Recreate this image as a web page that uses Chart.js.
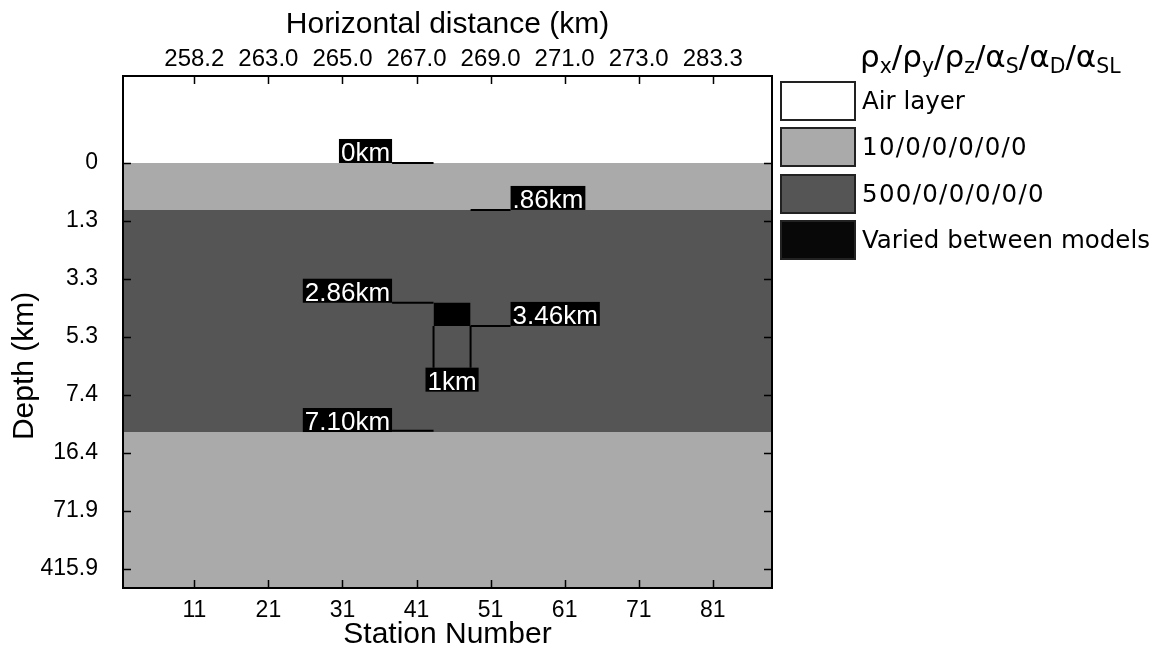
<!DOCTYPE html>
<html>
<head>
<meta charset="utf-8">
<script src="https://cdn.jsdelivr.net/npm/chart.js@4.4.0/dist/chart.umd.min.js"></script>
<style>
  html, body { margin: 0; padding: 0; background: #fff; }
  #wrap { position: relative; width: 1165px; height: 653px; }
  #legend { position: absolute; left: 780px; top: 0; font-family: 'DejaVu Sans', sans-serif; color: #000; }
  #legend .title { position: absolute; left: 80px; top: 38px; font-size: 31px; white-space: nowrap; }
  #legend .title sub { font-size: 0.66em; vertical-align: -0.3em; line-height: 0; }
  #legend .item { position: absolute; left: 0; height: 40px; white-space: nowrap; }
  #legend .box { position: absolute; left: 0; top: 0; width: 72px; height: 36px; border: 2px solid #222; }
  #legend .txt { position: absolute; left: 82px; top: 0; line-height: 40px; font-size: 24.5px; }
</style>
</head>
<body>
<div id="wrap">
  <canvas id="chart" width="1165" height="653"></canvas>
  <div id="legend">
    <div class="title">ρ<sub>x</sub>/ρ<sub>y</sub>/ρ<sub>z</sub>/α<sub>S</sub>/α<sub>D</sub>/α<sub>SL</sub></div>
  </div>
</div>
<script>
// tick labels
const stations = [11, 21, 31, 41, 51, 61, 71, 81];
const distances = ['258.2', '263.0', '265.0', '267.0', '269.0', '271.0', '273.0', '283.3'];
const depths = ['0', '1.3', '3.3', '5.3', '7.4', '16.4', '71.9', '415.9'];

// model extent (x in station numbers, y in mesh rows: row i = depths[i])
const xRange = [1.37, 89];
const yRange = [-1.5, 7.33];

// layers, top and bottom in mesh rows
const layerTop = [-1.5, 0, 0.81, 4.64];
const layerBottom = [0, 0.81, 4.64, 7.33];

// block that changes between models
const blockX = [43.3, 48.3];
const blockY = [2.41, 2.81];

// marker lines [x0, x1, y0, y1]
const markerLines = [
    [37.7, 43.3, 0, 0],
    [48.3, 53.7, 0.81, 0.81],
    [37.7, 43.3, 2.41, 2.41],
    [48.3, 53.7, 2.81, 2.81],
    [43.3, 43.3, 2.81, 3.53],
    [48.3, 48.3, 2.81, 3.53],
    [37.7, 43.3, 4.62, 4.62]
];

// marker labels and the line end they hang on
const markerText = ['0km', '.86km', '2.86km', '3.46km', '1km', '7.10km'];
const markerX = [37.7, 53.7, 37.7, 53.7, 45.8, 37.7];
const markerY = [0, 0.81, 2.41, 2.81, 3.53, 4.64];
const markerSide = ['right', 'left', 'right', 'left', 'below', 'right'];

// legend
const legendLabels = ['Air layer', '10/0/0/0/0/0', '500/0/0/0/0/0', 'Varied between models'];
const legendColors = ['#ffffff', '#aaaaaa', '#555555', '#080808'];
const layerColors = ['#ffffff', '#aaaaaa', '#555555', '#aaaaaa'];

const legend = document.getElementById('legend');
legendLabels.forEach(function (name, i) {
    const item = document.createElement('div');
    item.className = 'item';
    item.style.top = (81 + i * 46.4) + 'px';
    const spacing = name.indexOf('/') >= 0 ? 'letter-spacing:1.3px;' : '';
    item.innerHTML = '<div class="box" style="background:' + legendColors[i] + '"></div>' +
        '<div class="txt" style="' + spacing + '">' + name + '</div>';
    legend.appendChild(item);
});

const datasets = [];
layerTop.forEach(function (top, i) {
    datasets.push({
        data: [{x: xRange[0], y: top}, {x: xRange[1], y: top}],
        fill: {value: layerBottom[i]},
        backgroundColor: layerColors[i],
        borderColor: 'rgba(0,0,0,0)',
        borderWidth: 0,
        order: 3
    });
});
datasets.push({
    data: [{x: blockX[0], y: blockY[0]}, {x: blockX[1], y: blockY[0]}],
    fill: {value: blockY[1]},
    backgroundColor: '#000000',
    borderColor: 'rgba(0,0,0,0)',
    borderWidth: 0,
    order: 2
});
markerLines.forEach(function (m) {
    datasets.push({
        data: [{x: m[0], y: m[2]}, {x: m[1], y: m[3]}],
        fill: false,
        borderColor: '#000000',
        borderWidth: 2,
        order: 1
    });
});

const tickFont = {family: 'Liberation Sans', size: 23};
const titleFont = {family: 'Liberation Sans', size: 30};

const framePlugin = {
    id: 'frame',
    afterDatasetsDraw(chart) {
        const ctx = chart.ctx;
        const sx = chart.scales.x, sy = chart.scales.y;
        ctx.save();
        ctx.font = '26px "Liberation Sans"';
        ctx.textBaseline = 'alphabetic';
        markerText.forEach(function (t, i) {
            const px = sx.getPixelForValue(markerX[i]);
            const py = sy.getPixelForValue(markerY[i]);
            const w = ctx.measureText(t).width + 4;
            const h = 24;
            let left, top;
            if (markerSide[i] === 'right') { left = px - w; top = py - h; }
            else if (markerSide[i] === 'left') { left = px; top = py - h; }
            else { left = px - w / 2; top = py; }
            ctx.fillStyle = '#000';
            ctx.fillRect(left, top, w, h);
            ctx.fillStyle = '#fff';
            ctx.fillText(t, left + 2, top + h - 2);
        });
        ctx.restore();
    },
    afterDraw(chart) {
        const ctx = chart.ctx;
        const a = chart.chartArea;
        const sx = chart.scales.x, sy = chart.scales.y;
        ctx.save();
        ctx.strokeStyle = '#000';
        ctx.lineWidth = 1.5;
        ctx.beginPath();
        stations.forEach(function (s) {
            const px = Math.round(sx.getPixelForValue(s)) + 0.5;
            ctx.moveTo(px, a.bottom); ctx.lineTo(px, a.bottom - 8);
            ctx.moveTo(px, a.top); ctx.lineTo(px, a.top + 8);
        });
        depths.forEach(function (d, i) {
            const py = Math.round(sy.getPixelForValue(i)) + 0.5;
            ctx.moveTo(a.left, py); ctx.lineTo(a.left + 8, py);
            ctx.moveTo(a.right, py); ctx.lineTo(a.right - 8, py);
        });
        ctx.stroke();
        ctx.lineWidth = 2;
        ctx.strokeRect(a.left, a.top, a.right - a.left, a.bottom - a.top);

        // y title, centred on the labelled depth rows
        const cy = (sy.getPixelForValue(0) + sy.getPixelForValue(depths.length - 1)) / 2;
        ctx.translate(25, cy);
        ctx.rotate(-Math.PI / 2);
        ctx.font = '30px "Liberation Sans"';
        ctx.fillStyle = '#000';
        ctx.textAlign = 'center';
        ctx.textBaseline = 'middle';
        ctx.fillText('Depth (km)', 0, 0);
        ctx.restore();
    }
};

new Chart(document.getElementById('chart'), {
    type: 'line',
    data: {datasets: datasets},
    options: {
        responsive: false,
        animation: false,
        layout: {padding: {left: 0, right: 393, top: 0, bottom: 0}},
        elements: {point: {radius: 0}, line: {tension: 0}},
        plugins: {legend: {display: false}, tooltip: {enabled: false}},
        scales: {
            x: {
                type: 'linear', position: 'bottom', min: xRange[0], max: xRange[1],
                afterBuildTicks: function (s) { s.ticks = stations.map(function (v) { return {value: v}; }); },
                afterFit: function (s) { s.height = 65; },
                ticks: {font: tickFont, color: '#000', padding: 9, maxRotation: 0,
                    callback: function (v) { return String(v); }},
                grid: {display: false, drawTicks: false},
                border: {display: false},
                title: {display: true, text: 'Station Number', font: titleFont, color: '#000', padding: {top: 0, bottom: 0}}
            },
            x2: {
                type: 'linear', position: 'top', min: xRange[0], max: xRange[1],
                afterBuildTicks: function (s) { s.ticks = stations.map(function (v) { return {value: v}; }); },
                afterFit: function (s) { s.height = 76; },
                ticks: {font: {family: 'Liberation Sans', size: 24}, color: '#000', padding: 2, maxRotation: 0,
                    callback: function (v) { return distances[stations.indexOf(v)]; }},
                grid: {display: false, drawTicks: false},
                border: {display: false},
                title: {display: true, text: 'Horizontal distance (km)', font: titleFont, color: '#000', padding: {top: 7, bottom: 0}}
            },
            y: {
                type: 'linear', position: 'left', reverse: true, min: yRange[0], max: yRange[1],
                afterBuildTicks: function (s) { s.ticks = depths.map(function (d, i) { return {value: i}; }); },
                afterFit: function (s) { s.width = 123; },
                ticks: {font: tickFont, color: '#000', padding: 25,
                    callback: function (v) { return depths[v]; }},
                grid: {display: false, drawTicks: false},
                border: {display: false}
            }
        }
    },
    plugins: [framePlugin]
});
</script>
</body>
</html>
